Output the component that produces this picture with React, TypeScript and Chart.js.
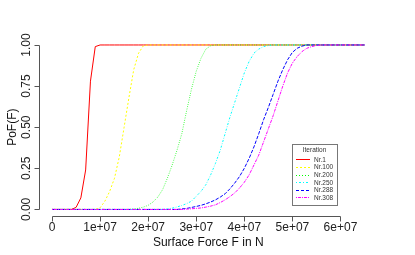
import React, { useEffect, useRef } from "react";
import { Chart, registerables } from "chart.js";

Chart.register(...registerables);

// Surface force grid (N)
const forceGrid = [
  0, 1e6, 2e6, 3e6, 4e6, 5e6, 6e6, 7e6, 8e6, 9e6,
  10e6, 11e6, 12e6, 13e6, 14e6, 15e6, 16e6, 17e6, 18e6, 19e6,
  20e6, 21e6, 22e6, 23e6, 24e6, 25e6, 26e6, 27e6, 28e6, 29e6,
  30e6, 31e6, 32e6, 33e6, 34e6, 35e6, 36e6, 37e6, 38e6, 39e6,
  40e6, 41e6, 42e6, 43e6, 44e6, 45e6, 46e6, 47e6, 48e6, 49e6,
  50e6, 51e6, 52e6, 53e6, 54e6, 55e6, 56e6, 57e6, 58e6, 59e6,
  60e6, 61e6, 62e6, 63e6, 64e6, 65e6,
];

const pofNr1 = [
  0, 0, 0, 0, 0, 0.012, 0.07, 0.24, 0.78, 0.99,
  1, 1, 1, 1, 1, 1, 1, 1, 1, 1,
  1, 1, 1, 1, 1, 1, 1, 1, 1, 1,
  1, 1, 1, 1, 1, 1, 1, 1, 1, 1,
  1, 1, 1, 1, 1, 1, 1, 1, 1, 1,
  1, 1, 1, 1, 1, 1, 1, 1, 1, 1,
  1, 1, 1, 1, 1, 1,
];

const pofNr100 = [
  0, 0, 0, 0, 0, 0, 0, 0, 0, 0,
  0.01, 0.05, 0.11, 0.19, 0.32, 0.5, 0.68, 0.85, 0.95, 0.995,
  1, 1, 1, 1, 1, 1, 1, 1, 1, 1,
  1, 1, 1, 1, 1, 1, 1, 1, 1, 1,
  1, 1, 1, 1, 1, 1, 1, 1, 1, 1,
  1, 1, 1, 1, 1, 1, 1, 1, 1, 1,
  1, 1, 1, 1, 1, 1,
];

const pofNr200 = [
  0, 0, 0, 0, 0, 0, 0, 0, 0, 0,
  0, 0, 0, 0, 0, 0, 0, 0.003, 0.007, 0.014,
  0.025, 0.045, 0.075, 0.12, 0.19, 0.27, 0.36, 0.46, 0.6, 0.73,
  0.84, 0.92, 0.975, 0.995, 1, 1, 1, 1, 1, 1,
  1, 1, 1, 1, 1, 1, 1, 1, 1, 1,
  1, 1, 1, 1, 1, 1, 1, 1, 1, 1,
  1, 1, 1, 1, 1, 1,
];

const pofNr250 = [
  0, 0, 0, 0, 0, 0, 0, 0, 0, 0,
  0, 0, 0, 0, 0, 0, 0, 0, 0, 0,
  0, 0, 0, 0, 0.003, 0.008, 0.015, 0.024, 0.035, 0.05,
  0.08, 0.11, 0.15, 0.21, 0.28, 0.36, 0.46, 0.56, 0.65, 0.74,
  0.83, 0.9, 0.95, 0.975, 0.99, 0.997, 1, 1, 1, 1,
  1, 1, 1, 1, 1, 1, 1, 1, 1, 1,
  1, 1, 1, 1, 1, 1,
];

const pofNr288 = [
  0, 0, 0, 0, 0, 0, 0, 0, 0, 0,
  0, 0, 0, 0, 0, 0, 0, 0, 0, 0,
  0, 0, 0, 0, 0, 0, 0, 0.003, 0.006, 0.012,
  0.018, 0.025, 0.034, 0.045, 0.058, 0.075, 0.095, 0.125, 0.16, 0.2,
  0.25, 0.31, 0.38, 0.46, 0.545, 0.62, 0.7, 0.78, 0.85, 0.91,
  0.955, 0.98, 0.993, 1, 1, 1, 1, 1, 1, 1,
  1, 1, 1, 1, 1, 1,
];

const pofNr308 = [
  0, 0, 0, 0, 0, 0, 0, 0, 0, 0,
  0, 0, 0, 0, 0, 0, 0, 0, 0, 0,
  0, 0, 0, 0, 0, 0, 0, 0, 0.002, 0.004,
  0.006, 0.009, 0.014, 0.02, 0.028, 0.042, 0.058, 0.078, 0.1, 0.13,
  0.165, 0.21, 0.27, 0.33, 0.41, 0.49, 0.57, 0.66, 0.75, 0.83,
  0.89, 0.93, 0.96, 0.98, 0.99, 0.997, 1, 1, 1, 1,
  1, 1, 1, 1, 1, 1,
];

const seriesNames = ["Nr.1", "Nr.100", "Nr.200", "Nr.250", "Nr.288", "Nr.308"];
const seriesValues = [pofNr1, pofNr100, pofNr200, pofNr250, pofNr288, pofNr308];
const seriesColors = ["#FF0000", "#FFFF00", "#00FF00", "#00FFFF", "#0000FF", "#FF00FF"];
const seriesDashes = [[], [2, 2], [0.7, 1.6], [0.7, 1.6, 2, 1.6], [3.5, 1.5], [1, 1, 3, 1]];
// legend sample patterns in whole pixels (on, off, ...)
const legendPatterns = [[14], [2, 2], [1, 2], [1, 2, 2, 2], [3, 2], [1, 1, 3, 1]];

const xTickValues = [0, 1e7, 2e7, 3e7, 4e7, 5e7, 6e7];
const xTickLabels = ["0", "1e+07", "2e+07", "3e+07", "4e+07", "5e+07", "6e+07"];
const yTickValues = [0, 0.25, 0.5, 0.75, 1];
const yTickLabels = ["0.00", "0.25", "0.50", "0.75", "1.00"];

const xTitle = "Surface Force F in N";
const yTitle = "PoF(F)";
const legendTitle = "Iteration";

const FONT = '"Liberation Sans", Arial, Helvetica, sans-serif';

const rPlotPlugin = {
  id: "rPlot",
  afterDraw(chart: any) {
    const ctx: CanvasRenderingContext2D = chart.ctx;
    const xs = chart.scales.x;
    const ys = chart.scales.y;
    const area = chart.chartArea;
    ctx.save();
    ctx.strokeStyle = "#555";
    ctx.lineWidth = 1;
    ctx.setLineDash([]);

    // x axis
    const axY = Math.round(area.bottom) + 0.5;
    const x0 = xs.getPixelForValue(xTickValues[0]);
    const x1 = xs.getPixelForValue(xTickValues[xTickValues.length - 1]);
    ctx.beginPath();
    ctx.moveTo(Math.round(x0) + 0.5, axY);
    ctx.lineTo(Math.round(x1) + 0.5, axY);
    xTickValues.forEach((v) => {
      const px = Math.round(xs.getPixelForValue(v)) + 0.5;
      ctx.moveTo(px, axY);
      ctx.lineTo(px, axY + 5);
    });
    ctx.stroke();

    ctx.fillStyle = "#222";
    ctx.font = `12px ${FONT}`;
    ctx.textAlign = "center";
    ctx.textBaseline = "alphabetic";
    xTickValues.forEach((v, i) => {
      ctx.fillText(xTickLabels[i], xs.getPixelForValue(v), 230.5);
    });

    // y axis
    const axX = Math.round(area.left) + 0.5 - 1;
    const y0 = ys.getPixelForValue(yTickValues[0]);
    const y1 = ys.getPixelForValue(yTickValues[yTickValues.length - 1]);
    ctx.beginPath();
    ctx.moveTo(axX, Math.round(y0) + 0.5);
    ctx.lineTo(axX, Math.round(y1) + 0.5);
    yTickValues.forEach((v) => {
      const py = Math.round(ys.getPixelForValue(v)) + 0.5;
      ctx.moveTo(axX, py);
      ctx.lineTo(axX - 5, py);
    });
    ctx.stroke();

    yTickValues.forEach((v, i) => {
      ctx.save();
      ctx.translate(29.5, ys.getPixelForValue(v));
      ctx.rotate(-Math.PI / 2);
      ctx.fillText(yTickLabels[i], 0, 0);
      ctx.restore();
    });

    // titles
    ctx.fillStyle = "#111";
    ctx.font = `12px ${FONT}`;
    ctx.fillText(xTitle, (area.left + area.right) / 2, 245.5);
    ctx.save();
    ctx.translate(15.5, (area.top + area.bottom) / 2);
    ctx.rotate(-Math.PI / 2);
    ctx.fillText(yTitle, 0, 0);
    ctx.restore();

    // legend box
    const bx = 292, by = 144, bw = 45, bh = 61;
    ctx.fillStyle = "#fff";
    ctx.fillRect(bx, by, bw, bh);
    ctx.strokeStyle = "#777";
    ctx.lineWidth = 1;
    ctx.strokeRect(bx + 0.5, by + 0.5, bw, bh);
    ctx.font = `6.5px ${FONT}`;
    ctx.textAlign = "center";
    ctx.fillStyle = "#333";
    ctx.fillText(legendTitle, bx + bw / 2, 152);
    ctx.textAlign = "left";
    for (let i = 0; i < seriesNames.length; i++) {
      const cy = 159.3 + i * 7.6;
      const rowY = Math.round(cy);
      ctx.fillStyle = seriesColors[i];
      const pat = legendPatterns[i];
      let x = 296;
      let k = 0;
      while (x < 310) {
        const len = pat[k % pat.length];
        if (k % 2 === 0) ctx.fillRect(x, rowY, Math.min(len, 310 - x), 1);
        x += len;
        k++;
      }
      ctx.fillStyle = "#333";
      ctx.fillText(seriesNames[i], 314, cy + 2.4);
    }
    ctx.restore();
  },
};

export default function App() {
  const canvasRef = useRef<HTMLCanvasElement | null>(null);

  useEffect(() => {
    const canvas = canvasRef.current;
    if (!canvas) return;
    const datasets = seriesNames.map((name, i) => ({
      label: name,
      data: forceGrid.map((x, j) => ({ x, y: seriesValues[i][j] })),
      borderColor: seriesColors[i],
      backgroundColor: seriesColors[i],
      borderWidth: 1,
      borderDash: seriesDashes[i],
      pointRadius: 0,
      fill: false,
      tension: 0,
      order: seriesNames.length - i,
    }));
    const chart = new Chart(canvas, {
      type: "line",
      data: { datasets },
      options: {
        animation: false,
        responsive: false,
        devicePixelRatio: 1,
        events: [],
        layout: { padding: { left: 39.5, right: 38, top: 38.4, bottom: 39 } },
        scales: {
          x: { type: "linear", min: -0.26e7, max: 6.76e7, display: false },
          y: { type: "linear", min: -0.04, max: 1.04, display: false },
        },
        plugins: { legend: { display: false }, tooltip: { enabled: false } },
      },
      plugins: [rPlotPlugin],
    } as any);
    return () => chart.destroy();
  }, []);

  return (
    <div style={{ position: "fixed", left: 0, top: 0, width: 415, height: 255, background: "#fff" }}>
      <canvas ref={canvasRef} width={415} height={255} style={{ display: "block" }} />
    </div>
  );
}
